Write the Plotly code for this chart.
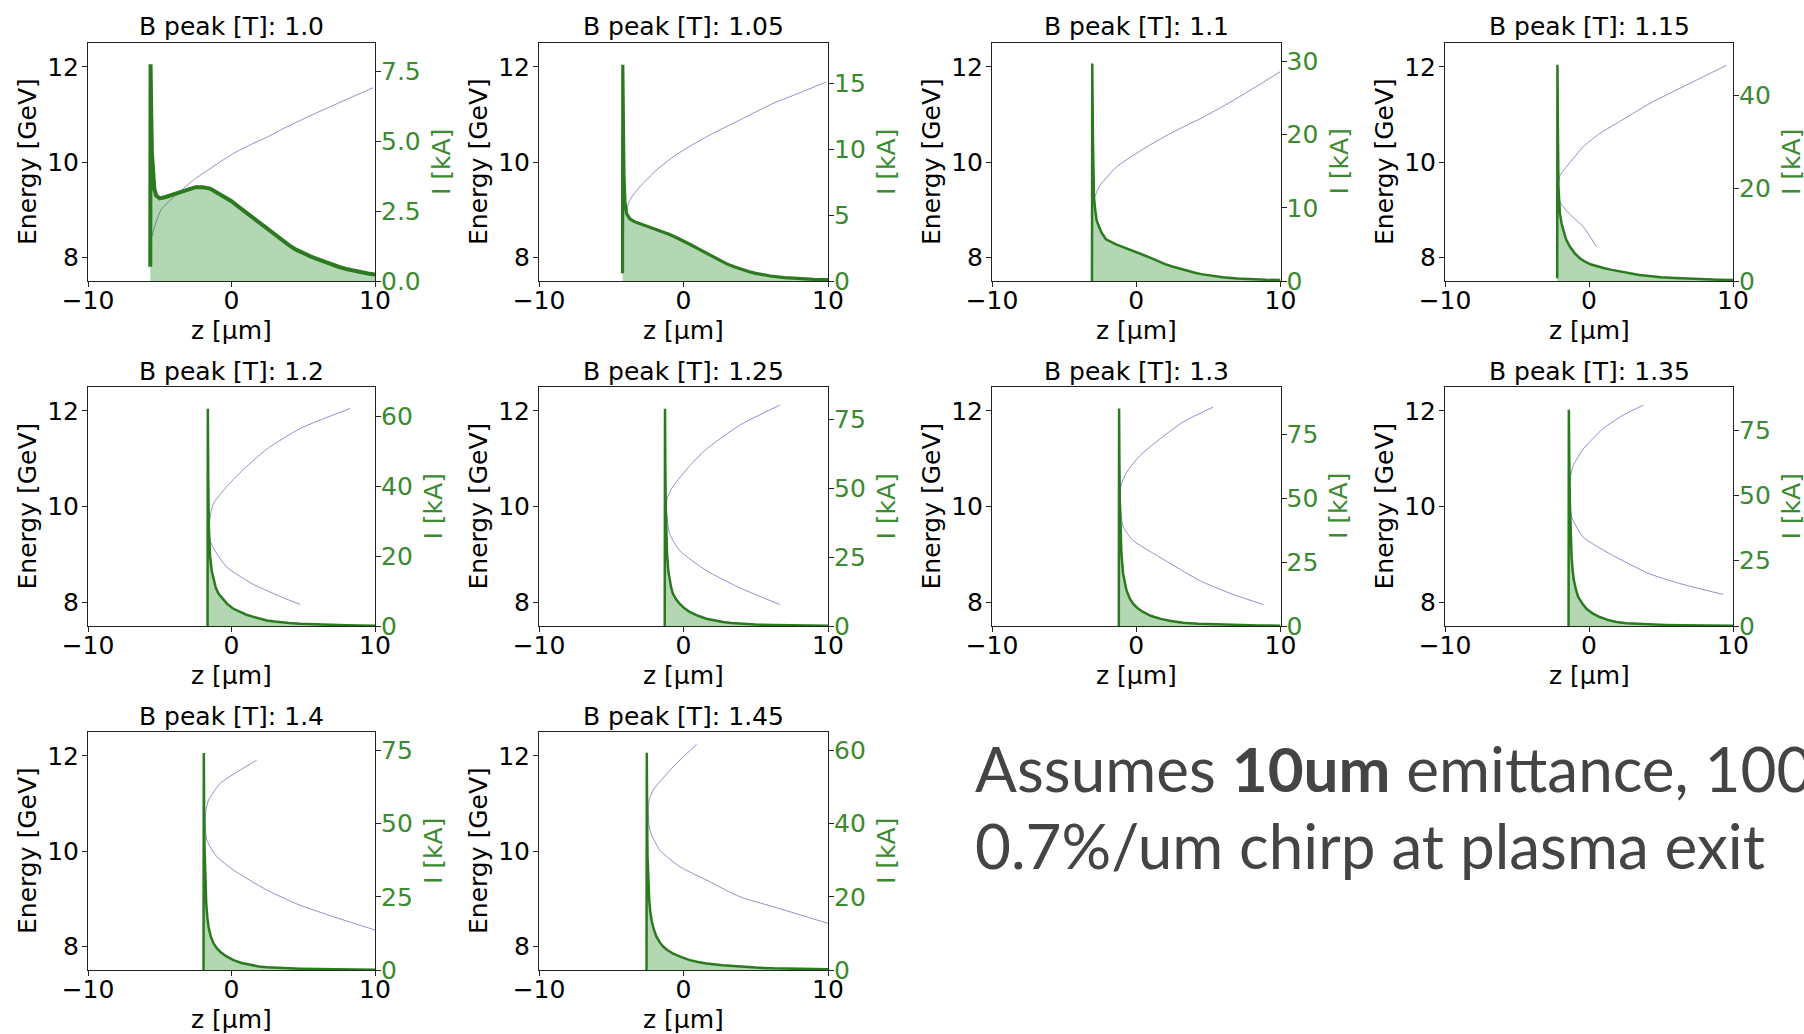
import plotly.graph_objects as go

# ---------------------------------------------------------------------------
# Data: peak dipole field for each panel, current-axis limits and tick steps
# ---------------------------------------------------------------------------
B_PEAK = ["1.0", "1.05", "1.1", "1.15", "1.2", "1.25", "1.3", "1.35", "1.4", "1.45"]
I_AXIS_MAX = [8.5, 18.05, 32.5, 51.2, 68.4, 86.7, 93.6, 91.5, 81.3, 65.0]
I_DTICK = [2.5, 5, 10, 20, 20, 25, 25, 25, 25, 20]

# Current profiles I(z) [kA] vs z [um]
Z_100 = [-5.66, -5.64, -5.60, -5.55, -5.48, -5.38, -5.25, -5.0, -4.6, -4.0, -3.5, -3.0, -2.5, -2.0,
         -1.5, -1.0, -0.5, 0.0, 0.5, 1.0, 1.5, 2.0, 2.5, 3.0, 3.5, 4.0, 4.5, 5.0, 5.5, 6.0, 6.5,
         7.0, 7.5, 8.0, 8.5, 9.0, 9.5, 10.0]
I_100 = [0.51, 7.74, 6.2, 4.6, 3.7, 3.3, 3.05, 2.95, 3.0, 3.1, 3.2, 3.3, 3.35, 3.35,
         3.3, 3.15, 3.0, 2.85, 2.65, 2.45, 2.25, 2.05, 1.85, 1.65, 1.45, 1.28, 1.12, 0.98, 0.88, 0.78, 0.68,
         0.58, 0.5, 0.43, 0.37, 0.32, 0.27, 0.23]

Z_105 = [-4.22, -4.20, -4.16, -4.12, -4.05, -3.94, -3.7, -3.4, -3.0, -2.5, -2.0, -1.5, -1.0, -0.5, 0.0,
         0.5, 1.0, 1.5, 2.0, 2.5, 3.0, 3.5, 4.0, 4.5, 5.0, 5.5, 6.0, 7.0, 8.0, 9.0, 10.0]
I_105 = [0.58, 16.4, 12.0, 8.0, 6.0, 5.1, 4.7, 4.5, 4.35, 4.15, 3.95, 3.75, 3.55, 3.3, 3.05,
         2.75, 2.45, 2.15, 1.85, 1.55, 1.3, 1.08, 0.88, 0.72, 0.58, 0.47, 0.38, 0.26, 0.18, 0.13, 0.1]

Z_110 = [-3.07, -3.05, -3.0, -2.93, -2.85, -2.75, -2.6, -2.4, -2.1, -1.8, -1.4, -1.0, -0.5, 0.0, 0.5,
         1.0, 1.5, 2.0, 2.5, 3.0, 3.5, 4.0, 4.5, 5.0, 6.0, 7.0, 8.0, 9.0, 10.0]
I_110 = [0.0, 29.7, 19.0, 11.5, 9.8, 8.3, 7.5, 6.6, 5.7, 5.35, 5.0, 4.7, 4.35, 3.95, 3.55,
         3.15, 2.72, 2.3, 1.98, 1.68, 1.4, 1.16, 0.94, 0.77, 0.5, 0.34, 0.23, 0.17, 0.13]

Z_115 = [-2.21, -2.19, -2.16, -2.12, -2.02, -1.9, -1.79, -1.6, -1.33, -1.0, -0.64, -0.3, 0.1, 0.5,
         1.0, 1.5, 2.0, 2.5, 3.0, 3.5, 4.0, 4.5, 5.0, 6.0, 7.0, 8.0, 9.0, 10.0]
I_115 = [0.57, 46.5, 32.0, 20.2, 14.5, 12.3, 10.9, 9.0, 7.4, 6.0, 4.9, 4.2, 3.6, 3.2,
         2.8, 2.45, 2.15, 1.85, 1.55, 1.3, 1.12, 0.95, 0.8, 0.65, 0.48, 0.35, 0.27, 0.21]

Z_120 = [-1.67, -1.65, -1.62, -1.58, -1.49, -1.38, -1.25, -1.1, -0.91, -0.6, -0.32, 0.1, 0.6, 1.0,
         1.53, 2.0, 2.46, 3.0, 3.5, 4.0, 4.78, 5.5, 6.3, 7.1, 8.0, 9.0, 10.0]
I_120 = [0.0, 62.2, 42.0, 28.3, 19.8, 15.8, 13.1, 11.0, 9.3, 7.6, 6.4, 5.0, 4.0, 3.3,
         2.6, 2.05, 1.6, 1.3, 1.05, 0.88, 0.67, 0.52, 0.4, 0.29, 0.2, 0.14, 0.1]

Z_125 = [-1.3, -1.28, -1.26, -1.23, -1.18, -1.14, -1.05, -0.96, -0.85, -0.73, -0.5, -0.27, 0.05, 0.43,
         1.0, 1.58, 2.1, 2.73, 3.3, 3.89, 5.0, 6.19, 7.5, 8.8, 10.0]
I_125 = [0.0, 78.8, 60.0, 43.2, 32.0, 26.2, 20.0, 16.6, 13.8, 11.7, 9.6, 8.1, 6.5, 5.1,
         3.7, 2.66, 2.0, 1.45, 1.1, 0.85, 0.55, 0.36, 0.24, 0.16, 0.12]

Z_130 = [-1.21, -1.19, -1.17, -1.14, -1.09, -1.03, -0.91, -0.8, -0.68, -0.45, -0.22, 0.1, 0.47, 1.0,
         1.63, 2.4, 3.25, 4.3, 5.56, 7.0, 8.5, 10.0]
I_130 = [0.0, 85.2, 66.0, 49.3, 36.0, 28.4, 20.5, 16.6, 14.0, 10.8, 8.76, 6.9, 5.5, 4.0,
         2.88, 1.95, 1.31, 0.92, 0.65, 0.4, 0.22, 0.13]

Z_135 = [-1.42, -1.40, -1.37, -1.33, -1.27, -1.21, -1.13, -1.05, -0.9, -0.75, -0.45, -0.17, 0.25, 0.75,
         1.3, 1.91, 2.6, 3.4, 4.22, 5.3, 6.53, 8.0, 10.0]
I_135 = [0.0, 82.8, 64.0, 48.0, 33.0, 26.4, 21.0, 17.5, 13.8, 11.1, 8.5, 6.6, 4.8, 3.44,
         2.35, 1.53, 1.1, 0.82, 0.64, 0.42, 0.25, 0.17, 0.13]

Z_140 = [-1.95, -1.93, -1.91, -1.88, -1.82, -1.76, -1.68, -1.6, -1.45, -1.25, -1.0, -0.79, -0.4, 0.14,
         0.7, 1.3, 1.9, 2.46, 3.5, 4.78, 6.0, 7.1, 8.5, 10.0]
I_140 = [0.0, 74.1, 57.0, 42.0, 29.0, 22.7, 17.8, 14.8, 11.5, 9.1, 7.3, 6.25, 4.8, 3.4,
         2.4, 1.7, 1.22, 0.91, 0.62, 0.45, 0.32, 0.23, 0.16, 0.11]

Z_145 = [-2.56, -2.54, -2.52, -2.49, -2.43, -2.37, -2.3, -2.21, -2.05, -1.87, -1.65, -1.41, -1.1, -0.71,
         -0.15, 0.44, 1.0, 1.59, 2.7, 3.89, 5.0, 6.2, 8.0, 10.0]
I_145 = [0.0, 59.3, 44.0, 30.9, 23.0, 19.1, 16.0, 13.6, 11.0, 9.1, 7.6, 6.4, 5.4, 4.5,
         3.5, 2.7, 2.2, 1.8, 1.3, 0.9, 0.65, 0.45, 0.28, 0.18]

# Longitudinal phase space: energy [GeV] along the bunch
PZ_100 = [-5.5, -5.43, -4.9, -4.04, -2.65, -1.2, 0.13, 1.3, 2.46, 3.6, 4.77, 5.9, 7.09, 8.5, 9.88]
PE_100 = [8.45, 8.57, 9.0, 9.26, 9.62, 9.92, 10.18, 10.36, 10.52, 10.7, 10.87, 11.03, 11.19, 11.38, 11.56]

PZ_105 = [-3.95, -3.82, -3.5, -3.02, -1.87, -0.71, 0.44, 1.59, 2.74, 3.89, 5.05, 6.2, 7.35, 8.5, 9.88]
PE_105 = [8.95, 9.13, 9.3, 9.48, 9.83, 10.11, 10.33, 10.53, 10.71, 10.88, 11.06, 11.23, 11.37, 11.51, 11.68]

PZ_110 = [-2.86, -2.7, -2.51, -1.36, -0.2, 0.96, 2.12, 3.28, 4.44, 5.6, 6.76, 8.4, 10.0]
PE_110 = [9.27, 9.4, 9.51, 9.9, 10.14, 10.36, 10.56, 10.74, 10.91, 11.1, 11.3, 11.6, 11.9]

PZ_115 = [0.52, -0.4, -1.33, -2.0, -2.14, -2.05, -1.56, -0.4, 0.75, 1.91, 4.22, 6.53, 9.54]
PE_115 = [8.22, 8.64, 8.9, 9.15, 9.45, 9.7, 9.9, 10.32, 10.6, 10.81, 11.23, 11.58, 12.03]

PZ_120 = [4.78, 3.62, 1.53, -0.32, -1.2, -1.49, -1.55, -1.45, -1.25, -0.32, 0.6, 2.46, 4.78, 8.26]
PE_120 = [7.95, 8.09, 8.37, 8.73, 9.1, 9.29, 9.6, 9.85, 10.07, 10.42, 10.71, 11.2, 11.63, 12.05]

PZ_125 = [6.66, 3.89, 1.58, -0.27, -0.96, -1.19, -1.1, -0.73, 0.43, 1.58, 3.89, 6.66]
PE_125 = [7.95, 8.3, 8.66, 9.08, 9.43, 10.0, 10.2, 10.42, 10.85, 11.2, 11.7, 12.12]

PZ_130 = [8.8, 6.72, 4.4, 1.63, -0.22, -0.91, -1.14, -1.05, -0.68, 0.24, 1.63, 3.25, 5.33]
PE_130 = [7.95, 8.16, 8.45, 8.94, 9.29, 9.58, 10.21, 10.45, 10.71, 11.06, 11.41, 11.77, 12.08]

PZ_135 = [9.31, 6.53, 4.22, 1.45, -0.4, -1.21, -1.38, -1.3, -1.1, -0.4, 0.98, 2.37, 3.76]
PE_135 = [8.16, 8.37, 8.59, 9.01, 9.36, 9.79, 10.35, 10.6, 10.85, 11.2, 11.63, 11.91, 12.12]

PZ_140 = [10.0, 7.1, 4.78, 2.46, 0.14, -1.02, -1.72, -1.83, -1.75, -1.6, -0.79, 0.6, 1.76]
PE_140 = [8.34, 8.62, 8.86, 9.18, 9.6, 9.88, 10.23, 10.72, 10.9, 11.07, 11.42, 11.7, 11.91]

PZ_145 = [10.0, 6.2, 3.89, 1.59, -0.25, -1.64, -2.33, -2.44, -2.35, -2.1, -0.71, 0.9]
PE_145 = [8.48, 8.83, 9.04, 9.39, 9.67, 10.02, 10.44, 10.93, 11.1, 11.28, 11.77, 12.24]

CURRENTS = [(Z_100, I_100), (Z_105, I_105), (Z_110, I_110), (Z_115, I_115), (Z_120, I_120),
            (Z_125, I_125), (Z_130, I_130), (Z_135, I_135), (Z_140, I_140), (Z_145, I_145)]
PHASE = [(PZ_100, PE_100), (PZ_105, PE_105), (PZ_110, PE_110), (PZ_115, PE_115), (PZ_120, PE_120),
         (PZ_125, PE_125), (PZ_130, PE_130), (PZ_135, PE_135), (PZ_140, PE_140), (PZ_145, PE_145)]

# ---------------------------------------------------------------------------
# Page geometry (pixels) and styling
# ---------------------------------------------------------------------------
W, H = 1804, 1034
COL_L = [88, 539, 992, 1445]
COL_R = [375, 828, 1280.5, 1733]
ROW_T = [43, 387, 732]
ROW_B = [281, 626, 970]

FONT = "DejaVu Sans"
FS = 25
GREEN_LINE = "#2b7a1f"
GREEN_TEXT = "#3b8a2f"
GREEN_FILL = "rgba(34,139,34,0.35)"
BLUE = "rgba(35,35,150,0.5)"
LINE_W = [4.0, 3.2, 2.5, 2.5, 2.5, 2.5, 2.5, 2.5, 2.5, 2.5]


def px_x(p):
    return p / W


def px_y(p):
    return 1 - p / H


def axis_style(color, standoff):
    return dict(showgrid=False, zeroline=False, automargin=False, ticks="outside",
                ticklen=5, tickwidth=1, tickcolor="#222", ticklabelstandoff=standoff,
                tickfont=dict(family=FONT, size=FS, color=color))


fig = go.Figure()
layout = {}
annotations = []

for k in range(10):
    row, col = divmod(k, 4)
    left, right = COL_L[col], COL_R[col]
    top, bottom = ROW_T[row], ROW_B[row]

    xi, yl, yr = k + 1, 2 * k + 1, 2 * k + 2
    xref = "x" if xi == 1 else f"x{xi}"
    ylref = "y" if yl == 1 else f"y{yl}"
    yrref = f"y{yr}"

    pz, pe = PHASE[k]
    fig.add_trace(go.Scatter(x=pz, y=pe, xaxis=xref, yaxis=ylref, mode="lines",
                             line=dict(color=BLUE, width=1, shape="spline", smoothing=0.6),
                             hoverinfo="skip", showlegend=False))
    z, cur = CURRENTS[k]
    fig.add_trace(go.Scatter(x=z, y=cur, xaxis=xref, yaxis=yrref, mode="lines",
                             fill="tozeroy", fillcolor=GREEN_FILL,
                             line=dict(color=GREEN_LINE, width=LINE_W[k]),
                             hoverinfo="skip", showlegend=False))

    layout["xaxis" if xi == 1 else f"xaxis{xi}"] = dict(
        domain=[px_x(left), px_x(right)], anchor=ylref, range=[-10, 10],
        tickvals=[-10, 0, 10], showline=True, linecolor="#222", linewidth=1, mirror=True,
        **axis_style("black", -8))
    layout["yaxis" if yl == 1 else f"yaxis{yl}"] = dict(
        domain=[px_y(bottom), px_y(top)], anchor=xref, range=[7.5, 12.5],
        tickvals=[8, 10, 12], showline=True, linecolor="#222", linewidth=1, mirror=True,
        **axis_style("black", -2))
    layout[f"yaxis{yr}"] = dict(
        overlaying=ylref, side="right", anchor=xref, range=[0, I_AXIS_MAX[k]],
        tick0=0, dtick=I_DTICK[k], tickformat=".1f" if k == 0 else "", showline=False,
        **axis_style(GREEN_TEXT, -5))

    cx = (left + right) / 2
    annotations.append(dict(text=f"B peak [T]: {B_PEAK[k]}", x=px_x(cx), y=px_y(top - 16),
                            xref="paper", yref="paper", showarrow=False, xanchor="center",
                            yanchor="middle", font=dict(family=FONT, size=FS, color="black")))
    annotations.append(dict(text="z [μm]", x=px_x(cx), y=px_y(bottom + 49),
                            xref="paper", yref="paper", showarrow=False, xanchor="center",
                            yanchor="middle", font=dict(family=FONT, size=FS, color="black")))
    annotations.append(dict(text="Energy [GeV]", x=px_x(left - 61), y=px_y((top + bottom) / 2),
                            xref="paper", yref="paper", showarrow=False, textangle=-90,
                            xanchor="center", yanchor="middle",
                            font=dict(family=FONT, size=FS, color="black")))
    label_off = 66 if k == 0 else 58
    annotations.append(dict(text="I [kA]", x=px_x(right + label_off), y=px_y((top + bottom) / 2),
                            xref="paper", yref="paper", showarrow=False, textangle=-90,
                            xanchor="center", yanchor="middle",
                            font=dict(family=FONT, size=FS, color=GREEN_TEXT)))

# Note on the simulation assumptions
NOTE_FONT = dict(family="Lato", size=62, color="#444444")
annotations.append(dict(text="Assumes <b>10um</b> emittance, 100", x=px_x(973), y=px_y(768),
                        xref="paper", yref="paper", showarrow=False, xanchor="left",
                        yanchor="middle", font=NOTE_FONT))
annotations.append(dict(text="0.7%/um chirp at plasma exit", x=px_x(973), y=px_y(845),
                        xref="paper", yref="paper", showarrow=False, xanchor="left",
                        yanchor="middle", font=NOTE_FONT))

fig.update_layout(template="none", width=W, height=H, margin=dict(l=0, r=0, t=0, b=0, pad=0),
                  paper_bgcolor="white", plot_bgcolor="white",
                  annotations=annotations, **layout)

fig.write_html("out.html")
